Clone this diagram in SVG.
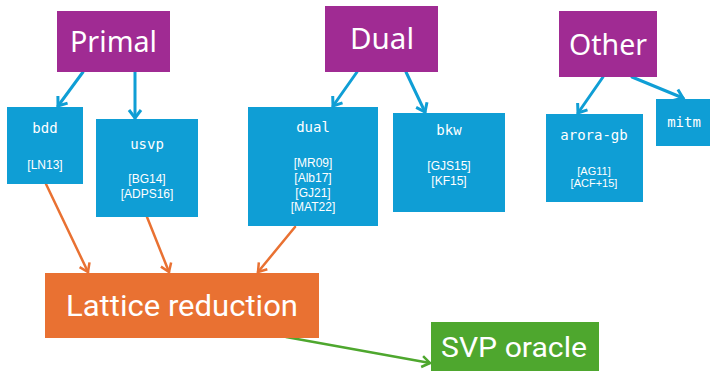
<svg xmlns="http://www.w3.org/2000/svg" width="710" height="371" viewBox="0 0 710 371">
  <style>
    .cat { fill: #A02B93; }
    .att { fill: #0F9ED5; }
    .red { fill: #E97132; }
    .svp { fill: #4EA72E; }
    .head { font-family: "Noto Sans", "Open Sans", sans-serif; font-size: 29px; fill: #fff; text-anchor: middle; }
    .big { font-family: "Roboto", "Noto Sans", sans-serif; fill: #fff; text-anchor: middle; }
    .mono { font-family: "DejaVu Sans Mono", "Liberation Mono", monospace; font-size: 14px; fill: #fff; text-anchor: middle; }
    .ref { font-family: "Liberation Sans", Arial, sans-serif; font-size: 12px; fill: #fff; text-anchor: middle; }
    .ref.small { font-size: 11px; }
    .edge { fill: none; stroke-linecap: round; }
    .e-blue { stroke: #0F9ED5; stroke-width: 3; }
    .e-orange { stroke: #E97132; stroke-width: 2.5; }
    .e-green { stroke: #4EA72E; stroke-width: 2.5; }
  </style>
  <defs>
    <marker id="ah-blue" markerUnits="userSpaceOnUse" viewBox="-10 -7 12 14" refX="0" refY="0" markerWidth="12" markerHeight="14" orient="auto" overflow="visible">
      <path d="M-8,-6 L0,0 L-8,6" fill="none" stroke="#0F9ED5" stroke-width="3"/>
    </marker>
    <marker id="ah-orange" markerUnits="userSpaceOnUse" viewBox="-10 -7 12 14" refX="0" refY="0" markerWidth="12" markerHeight="14" orient="auto" overflow="visible">
      <path d="M-8,-5.5 L0,0 L-8,5.5" fill="none" stroke="#E97132" stroke-width="2.5"/>
    </marker>
    <marker id="ah-green" markerUnits="userSpaceOnUse" viewBox="-10 -7 12 14" refX="0" refY="0" markerWidth="12" markerHeight="14" orient="auto" overflow="visible">
      <path d="M-8,-5.5 L0,0 L-8,5.5" fill="none" stroke="#4EA72E" stroke-width="2.5"/>
    </marker>
  </defs>

  <rect width="710" height="371" fill="#fff"/>

  <g id="connectors">
    <line class="edge e-blue" x1="83" y1="72" x2="58" y2="106" marker-end="url(#ah-blue)"/>
    <line class="edge e-blue" x1="135" y1="72" x2="135" y2="118" marker-end="url(#ah-blue)"/>
    <line class="edge e-blue" x1="357" y1="72" x2="333" y2="106" marker-end="url(#ah-blue)"/>
    <line class="edge e-blue" x1="406" y1="72" x2="425" y2="112" marker-end="url(#ah-blue)"/>
    <line class="edge e-blue" x1="603" y1="77" x2="578" y2="113" marker-end="url(#ah-blue)"/>
    <line class="edge e-blue" x1="632" y1="77" x2="683" y2="98" marker-end="url(#ah-blue)"/>
    <line class="edge e-orange" x1="46" y1="184" x2="88" y2="272" marker-end="url(#ah-orange)"/>
    <line class="edge e-orange" x1="147" y1="217" x2="169" y2="272" marker-end="url(#ah-orange)"/>
    <line class="edge e-orange" x1="295" y1="227" x2="258" y2="272" marker-end="url(#ah-orange)"/>
    <line class="edge e-green" x1="286" y1="337" x2="430" y2="363" marker-end="url(#ah-green)"/>
  </g>

  <g id="primal">
    <rect class="cat" x="57" y="11" width="113" height="61"/>
    <text class="head" x="113.5" y="52" textLength="87" lengthAdjust="spacingAndGlyphs">Primal</text>
  </g>
  <g id="dual-cat">
    <rect class="cat" x="325" y="6" width="113" height="66"/>
    <text class="head" x="382" y="49" textLength="64" lengthAdjust="spacingAndGlyphs">Dual</text>
  </g>
  <g id="other">
    <rect class="cat" x="559" y="11" width="98" height="66"/>
    <text class="head" x="608" y="55" textLength="78" lengthAdjust="spacingAndGlyphs">Other</text>
  </g>

  <g id="bdd">
    <rect class="att" x="7" y="107" width="76" height="77"/>
    <text class="mono" x="45" y="133">bdd</text>
    <text class="ref" x="45" y="169">[LN13]</text>
  </g>
  <g id="usvp">
    <rect class="att" x="96" y="119" width="102" height="98"/>
    <text class="mono" x="147" y="149">usvp</text>
    <text class="ref" x="147" y="183">[BG14]</text>
    <text class="ref" x="147" y="198">[ADPS16]</text>
  </g>
  <g id="dual">
    <rect class="att" x="248" y="107" width="130" height="119"/>
    <text class="mono" x="313" y="132">dual</text>
    <text class="ref" x="313" y="167">[MR09]</text>
    <text class="ref" x="313" y="182">[Alb17]</text>
    <text class="ref" x="313" y="197">[GJ21]</text>
    <text class="ref" x="313" y="211">[MAT22]</text>
  </g>
  <g id="bkw">
    <rect class="att" x="393" y="113" width="112" height="99"/>
    <text class="mono" x="449" y="135">bkw</text>
    <text class="ref" x="449" y="170">[GJS15]</text>
    <text class="ref" x="449" y="185">[KF15]</text>
  </g>
  <g id="arora-gb">
    <rect class="att" x="546" y="114" width="97" height="88"/>
    <text class="mono" x="594" y="140">arora-gb</text>
    <text class="ref small" x="594" y="175">[AG11]</text>
    <text class="ref small" x="594" y="187">[ACF+15]</text>
  </g>
  <g id="mitm">
    <rect class="att" x="656" y="99" width="54" height="47"/>
    <text class="mono" x="684" y="127">mitm</text>
  </g>

  <g id="lattice-reduction">
    <rect class="red" x="45" y="273" width="274" height="65"/>
    <text class="big" x="182" y="316" font-size="30" textLength="232" lengthAdjust="spacingAndGlyphs">Lattice reduction</text>
  </g>
  <g id="svp-oracle">
    <rect class="svp" x="431" y="322" width="168" height="49"/>
    <text class="big" x="514" y="357" font-size="27" textLength="146" lengthAdjust="spacingAndGlyphs">SVP oracle</text>
  </g>
</svg>
